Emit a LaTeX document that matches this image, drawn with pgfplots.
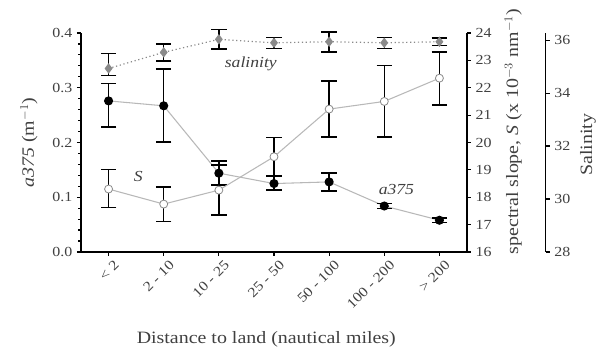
\documentclass[border=0pt]{standalone}
\usepackage{pgfplots}
\pgfplotsset{compat=1.18}
\usepackage{pgfplotstable}
\usepackage{fontspec}
\setmainfont[FakeStretch=1.15]{Liberation Serif}
\definecolor{txt}{HTML}{404040}
\definecolor{lgray}{HTML}{B8B8B8}
\definecolor{dgray}{HTML}{8A8A8A}

\pgfplotstableread{
x y ep em
0 0.276 0.032 0.048
1 0.267 0.067 0.066
2 0.144 0.022 0.022
3 0.125 0.014 0.012
4 0.128 0.016 0.017
5 0.084 0.005 0.005
6 0.058 0.004 0.004
}\atable
\pgfplotstableread{
x y ep em
0 18.30 0.72 0.68
1 17.75 0.62 0.64
2 18.26 0.92 0.91
3 19.48 0.71 0.73
4 21.22 1.02 1.02
5 21.50 1.31 1.30
6 22.35 0.96 0.98
}\stable
\pgfplotstableread{
x y ep em
0 34.93 0.56 0.27
1 35.54 0.32 0.32
2 36.03 0.37 0.37
3 35.90 0.20 0.22
4 35.94 0.37 0.38
5 35.90 0.20 0.22
6 35.94 0.14 0.14
}\saltable

\pgfplotsset{
  common/.style={
    scale only axis,
    width=289.5pt, height=164.25pt,
    at={(60.75pt,78pt)}, anchor=south west,
    xmin=-0.5, xmax=6.5,
    tick align=outside,
    major tick length=3pt,
    minor tick length=2pt,
    axis line style={black, line width=1.1pt, -},
    every tick/.style={black, line width=0.9pt},
    tick label style={font=\fontsize{10.4}{12}\selectfont, text=txt},
    label style={font=\fontsize{13}{15}\selectfont, text=txt},
    /pgf/number format/assume math mode=true,
  },
  ebars/.style={
    error bars/.cd, y dir=both, y explicit,
    error bar style={black, line width=1.1pt, solid},
    error mark=-,
    error mark options={rotate=90, black, line width=1.1pt, mark size=5.8pt, solid},
  },
}

\begin{document}
\begin{tikzpicture}
\useasboundingbox (0,0) rectangle (447.75pt,267pt);

% a375 axis (left)
\begin{axis}[common,
  ymin=0, ymax=0.4,
  axis x line*=bottom, axis y line*=left,
  xtick={0,...,6},
  xticklabels={{< 2},{2 - 10},{10 - 25},{25 - 50},{50 - 100},{100 - 200},{> 200}},
  xticklabel style={rotate=45, anchor=north east, xshift=4pt, yshift=-1pt},
  ytick={0,0.1,0.2,0.3,0.4},
  minor y tick num=4,
  yticklabel style={/pgf/number format/.cd, fixed, fixed zerofill, precision=1},
  xlabel={Distance to land (nautical miles)},
  xlabel style={at={(axis description cs:0.48,-0.40)}, anchor=center},
  ylabel={\textit{a375} (m$^{-1}$)},
  ylabel style={at={(axis description cs:-0.135,0.5)}, anchor=center},
  clip=false,
]
\addplot[lgray, line width=0.8pt, mark=*, mark size=3.0pt,
  mark options={fill=black, draw=black},
  ebars] table[x=x, y=y, y error plus=ep, y error minus=em] {\atable};
\node[font=\fontsize{11.5}{13}\selectfont\itshape, text=txt] at (axis cs:2.58,0.343) {salinity};
\node[font=\fontsize{11.5}{13}\selectfont\itshape, text=txt] at (axis cs:0.54,0.137) {S};
\node[font=\fontsize{11.5}{13}\selectfont\itshape, text=txt] at (axis cs:5.22,0.115) {a375};
\end{axis}

% spectral slope axis (right)
\begin{axis}[common,
  ymin=16, ymax=24,
  axis x line=none,
  axis y line*=right,
  ytick={16,...,24},
  ylabel={spectral slope, \textit{S} (x 10$^{-3}$ nm$^{-1}$)},
  ylabel style={at={(axis description cs:1.12,0.55)}, anchor=center, rotate=0},
  clip=false,
]
\addplot[lgray, line width=0.8pt, mark=*, mark size=3.0pt,
  mark options={fill=white, draw=dgray, line width=0.6pt},
  ebars] table[x=x, y=y, y error plus=ep, y error minus=em] {\stable};
\end{axis}

% salinity axis (outer right)
\begin{axis}[common,
  width=348.5pt,
  xmax=7.927,
  ymin=28, ymax=36.27,
  axis x line=none,
  axis y line*=right,
  ytick={28,30,32,34,36},
  ylabel={Salinity},
  ylabel style={at={(axis description cs:1.091,0.49)}, anchor=center},
  clip=false,
]
\addplot[dgray, line width=0.9pt, dotted, mark=diamond*, mark size=3.2pt,
  mark options={fill=dgray, draw=dgray, solid},
  ebars] table[x=x, y=y, y error plus=ep, y error minus=em] {\saltable};
\end{axis}
\end{tikzpicture}
\end{document}
